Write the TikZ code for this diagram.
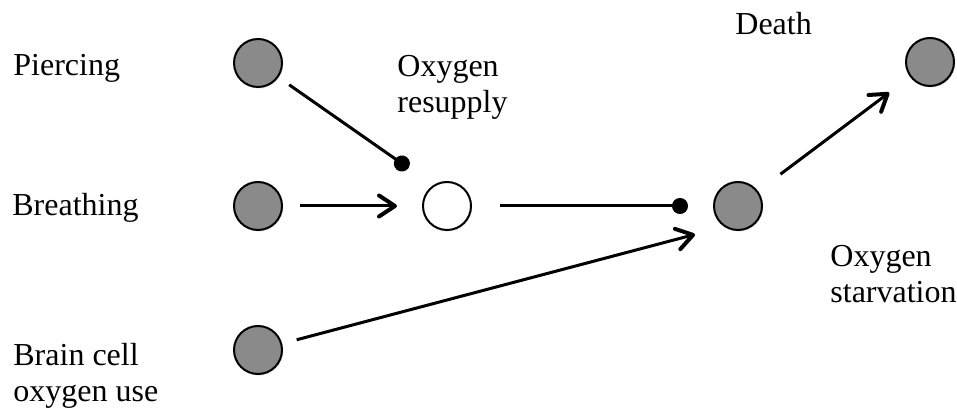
\documentclass[tikz,border=0pt]{standalone}
\usepackage{fontspec}
\setmainfont{Liberation Serif}
\usetikzlibrary{arrows.meta, positioning, shadows}
\definecolor{nodegray}{RGB}{138,138,138}
\tikzset{
  factor/.style={circle, draw, line width=1pt, fill=nodegray, minimum size=24pt, inner sep=0pt,
    drop shadow={opacity=0.2, shadow xshift=0.6pt, shadow yshift=-0.8pt}},
  pool/.style={factor, fill=white},
  lbl/.style={anchor=base west, inner sep=0pt, align=left, font=\fontsize{16}{18}\selectfont},
  excite/.style={-{Straight Barb[length=8pt,width=10.5pt,round,line width=2pt]}, line width=1.5pt},
  inhibit/.style={-{Circle[length=8pt]}, line width=1.5pt},
}

\begin{document}
\begin{tikzpicture}[x=0.5pt, y=-0.5pt, on grid]
\useasboundingbox (0,0) rectangle (957,410);
% variables
\node[factor] (breath) at (258,206) {};
\node[factor, above=71.5pt of breath] (pierce) {};
\node[factor, below=72pt of breath] (brain) {};
\node[pool, right=94.5pt of breath] (resupply) {};
\node[factor, right=145.5pt of resupply] (starve) {};
\node[factor, above right=72pt and 96pt of starve] (death) {};
% labels (multi-line ones sit on their last baseline)
\node[lbl] (tpierce) at (13,76) {Piercing};
\node[lbl] (tbreath) at (12,216) {Breathing};
\node[lbl] (tbrain) at (13,402) {Brain cell\\oxygen use};
\node[lbl] (tresupply) at (397,113) {Oxygen\\resupply};
\node[lbl] (tdeath) at (735,35) {Death};
\node[lbl] (tstarve) at (830,303) {Oxygen\\starvation};
% links
\draw[inhibit, shorten <=6.5pt, shorten >=15pt] (pierce) -- (resupply.124);
\draw[excite, shorten <=8.5pt, shorten >=12.5pt] (breath) -- (resupply);
\draw[inhibit, shorten <=14pt, shorten >=12.5pt] (resupply) -- (starve);
\draw[excite, shorten <=7.5pt, shorten >=15pt] (brain) -- (starve.236);
\draw[excite, shorten <=14pt, shorten >=13pt] (starve) -- (death);
\end{tikzpicture}
\end{document}
